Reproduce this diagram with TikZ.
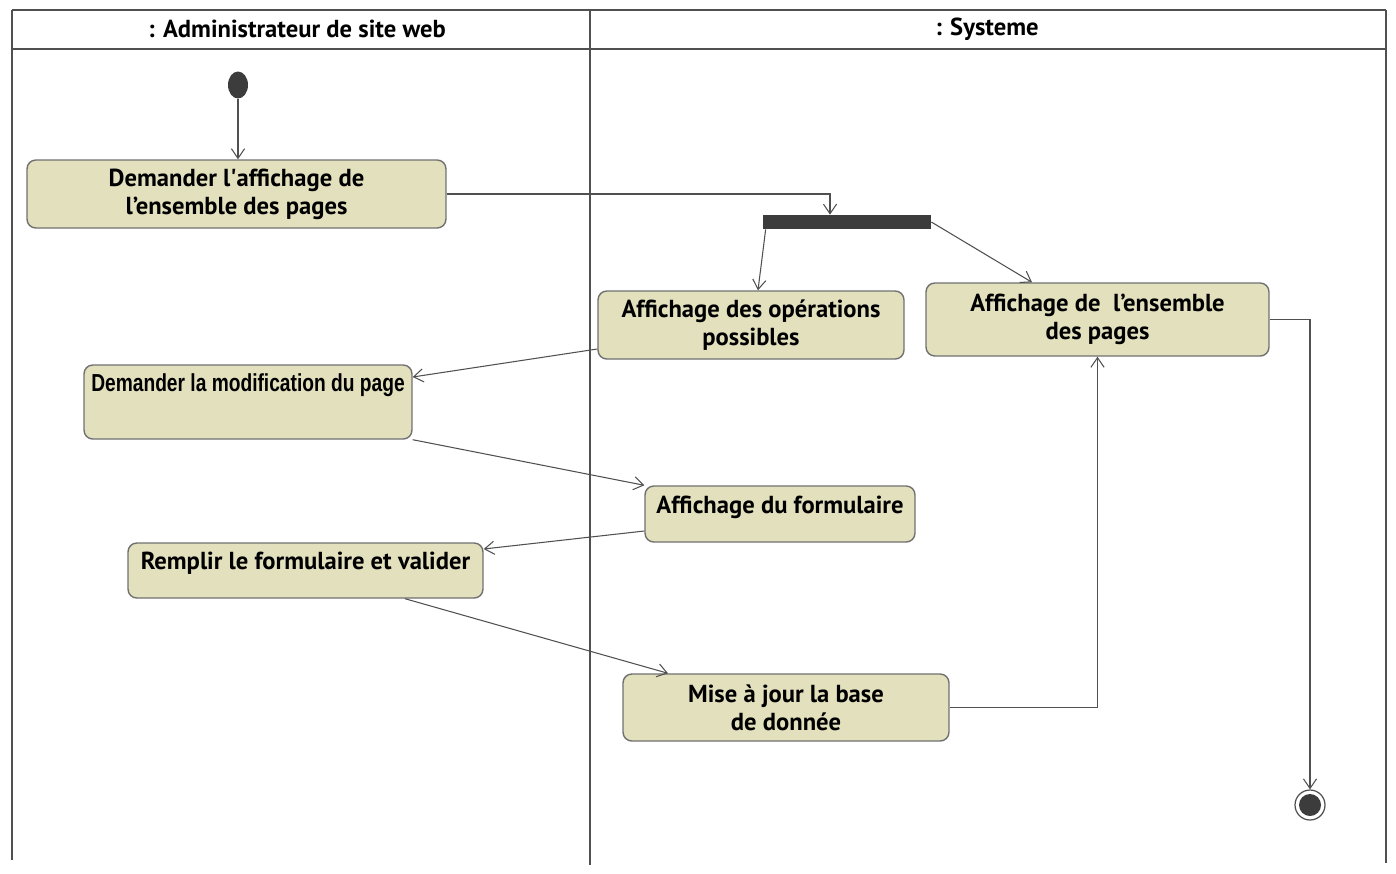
\documentclass[tikz,border=0pt]{standalone}
\usepackage{fontspec}
\setmainfont{PT Sans}
\newfontfamily\narrowfont{Liberation Sans}
\usetikzlibrary{arrows.meta,shapes.geometric}
\definecolor{actfill}{HTML}{E3E0BE}
\definecolor{actdraw}{HTML}{707070}
\definecolor{lanegray}{HTML}{505050}
\definecolor{barfill}{HTML}{3C3C3C}
\begin{document}
\begin{tikzpicture}[x=0.02cm,y=-0.02cm,>={Straight Barb[length=5.5pt,width=7.5pt]},
  activity/.style={draw=actdraw,line width=0.8pt,fill=actfill,rounded corners=5pt,
    align=center,inner sep=0pt,font=\fontsize{14}{16}\selectfont\bfseries},
  flow/.style={->,draw=lanegray,line width=0.6pt},
  lane/.style={draw=lanegray,line width=1.5pt}]
  \useasboundingbox (0,0) rectangle (1396,873);
  % swimlanes
  \draw[lane] (12,10) -- (1386,10);
  \draw[lane] (12,49) -- (1386,49);
  \draw[lane] (12,10) -- (12,860);
  \draw[lane] (590,10) -- (590,865);
  \draw[lane] (1386,10) -- (1386,863);
  \node[font=\fontsize{14}{16}\selectfont\bfseries] (admin) at (297,29) {: Administrateur de site web};
  \node[font=\fontsize{14}{16}\selectfont\bfseries] (systeme) at (987,29) {: Systeme};
  % start, fork and end
  \node[draw=none,fill=barfill,ellipse,minimum width=0.40cm,minimum height=0.54cm,inner sep=0pt] (init) at (238,85) {};
  \node[fill=barfill,minimum width=3.36cm,minimum height=0.28cm,inner sep=0pt] (fork) at (847,222) {};
  \node[draw=lanegray,line width=0.7pt,circle,minimum size=0.60cm,inner sep=0pt] (final) at (1310,805) {};
  \fill[barfill] (final) circle (0.22cm);
  % activities
  \node[activity,minimum width=8.38cm,minimum height=1.36cm] (demAff) at (236.5,194)
    {Demander l\textquotesingle affichage de\\l’ensemble des pages};
  \node[activity,minimum width=6.12cm,minimum height=1.36cm] (affOps) at (751,325)
    {Affichage des opérations\\possibles};
  \node[activity,minimum width=6.86cm,minimum height=1.46cm] (affPages) at (1097.5,319.5)
    {Affichage de~~l’ensemble\\des pages};
  \node[activity,minimum width=6.56cm,minimum height=1.48cm] (demModif) at (248,402)
    {\narrowfont\scalebox{0.78}[1]{Demander la modification du page}\\[6pt]\mbox{}};
  \node[activity,minimum width=5.40cm,minimum height=1.12cm] (affForm) at (780,514)
    {Affichage du formulaire\\[-5pt]\mbox{}};
  \node[activity,minimum width=7.10cm,minimum height=1.10cm] (remplir) at (305.5,570.5)
    {Remplir le formulaire et valider\\[-5pt]\mbox{}};
  \node[activity,minimum width=6.52cm,minimum height=1.34cm] (majBase) at (786,707.5)
    {Mise à jour la base\\de donnée};
  % flows
  \draw[flow] (init.south) -- (init.south |- demAff.north);
  \draw[flow] (demAff.east) -| ([xshift=-0.34cm]fork.north);
  \draw[flow] ([xshift=0.06cm]fork.south west) -- ([xshift=0.14cm]affOps.north);
  \draw[flow] (fork.east) -- ([xshift=-1.31cm]affPages.north);
  \draw[flow] (affPages.east) -| (final.north);
  \draw[flow] ([yshift=-0.48cm]affOps.west) -- ([yshift=0.5cm]demModif.east);
  \draw[flow] (demModif.south east) -- (affForm.north west);
  \draw[flow] ([yshift=-0.34cm]affForm.west) -- ([yshift=0.43cm]remplir.east);
  \draw[flow] ([xshift=1.99cm]remplir.south) -- ([xshift=-2.36cm]majBase.north);
  \draw[flow] (majBase.east) -| (affPages.south);
\end{tikzpicture}
\end{document}
